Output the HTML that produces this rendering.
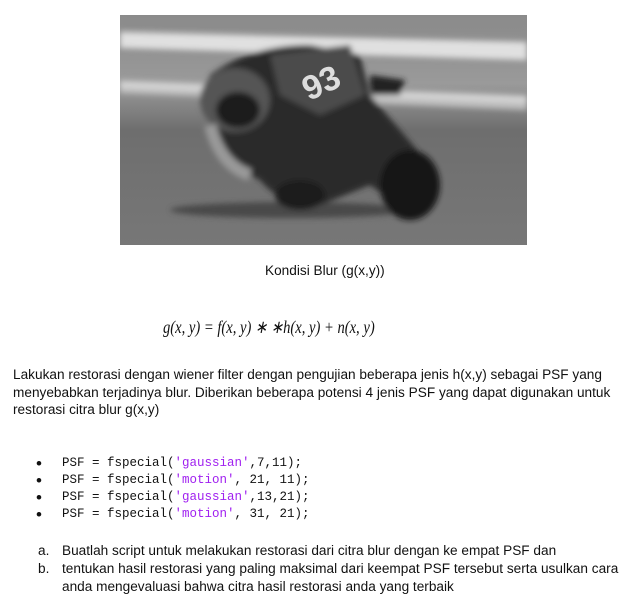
<!DOCTYPE html>
<html><head><meta charset="utf-8">
<style>
body{margin:0;width:634px;height:601px;background:#fff;position:relative;overflow:hidden;font-family:"Liberation Sans",sans-serif;color:#111}
.t{position:absolute;white-space:nowrap;font-size:13.5px;transform:scaleX(1.01);transform-origin:0 0;line-height:16px}
.c{position:absolute;white-space:nowrap;font-family:"Liberation Mono",monospace;font-size:12.5px;line-height:17px;left:62px}
.b{position:absolute;left:36px;font-size:17px;line-height:17px}
.p{color:#a020f0}
</style></head><body>
<svg style="position:absolute;left:120px;top:15px" width="407" height="230" viewBox="0 0 407 230">
<defs>
<filter id="bl"><feGaussianBlur stdDeviation="3"/></filter>
<linearGradient id="g" x1="0" y1="0" x2="0" y2="1">
<stop offset="0" stop-color="#8a8a8a"/><stop offset="0.3" stop-color="#9a9a9a"/><stop offset="0.5" stop-color="#6e6e6e"/><stop offset="1" stop-color="#777"/></linearGradient>
</defs>
<rect width="407" height="230" fill="url(#g)"/>
<g filter="url(#bl)">
<path d="M0 17 L407 27 L407 45 L0 33Z" fill="#e0e0e0"/>
<rect x="0" y="2" width="407" height="12" fill="#8c8c8c"/>
<path d="M0 65 L407 80 L407 95 L0 78Z" fill="#bdbdbd"/>
<path d="M0 70 L407 85" stroke="#d8d8d8" stroke-width="5"/>
<ellipse cx="170" cy="195" rx="120" ry="8" fill="#4a4a4a"/>
<path d="M90 60 Q130 30 190 30 L240 40 L250 80 L310 150 Q330 200 290 198 L250 170 L200 190 Q160 190 140 165 L110 150 Q80 110 90 60Z" fill="#2a2a2a"/>
<ellipse cx="115" cy="85" rx="35" ry="32" fill="#555"/>
<ellipse cx="118" cy="95" rx="22" ry="18" fill="#1a1a1a"/>
<path d="M150 40 L230 30 L245 80 L200 100 L160 80Z" fill="#4b4b4b"/>
<ellipse cx="290" cy="170" rx="30" ry="35" fill="#151515"/>
<ellipse cx="180" cy="180" rx="25" ry="15" fill="#1a1a1a"/>
<path d="M90 110 Q100 150 130 160" stroke="#999" stroke-width="12" fill="none"/>
<path d="M250 60 L285 65 L280 80 L250 80Z" fill="#222"/>
</g>
<text x="183" y="80" font-family="Liberation Sans" font-weight="bold" font-size="34" fill="#ddd" transform="rotate(-25 200 70)">93</text>
</svg>
<div class="t" style="left:265px;top:263px">Kondisi Blur (g(x,y))</div>
<div style="position:absolute;left:163px;top:317px;white-space:nowrap;font-family:'Liberation Serif',serif;font-size:18px;font-style:italic;transform:scaleX(0.81);transform-origin:0 0">g(x, y) = f(x, y) ∗ ∗h(x, y) + n(x, y)</div>
<div class="t" style="left:13px;top:367px">Lakukan restorasi dengan wiener filter dengan pengujian beberapa jenis h(x,y) sebagai PSF yang</div>
<div class="t" style="left:13px;top:385px">menyebabkan terjadinya blur. Diberikan beberapa potensi 4 jenis PSF yang dapat digunakan untuk</div>
<div class="t" style="left:13px;top:402px">restorasi citra blur g(x,y)</div>
<div class="b" style="top:455px">•</div><div class="c" style="top:455px">PSF = fspecial(<span class="p">'gaussian'</span>,7,11);</div>
<div class="b" style="top:472px">•</div><div class="c" style="top:472px">PSF = fspecial(<span class="p">'motion'</span>, 21, 11);</div>
<div class="b" style="top:489px">•</div><div class="c" style="top:489px">PSF = fspecial(<span class="p">'gaussian'</span>,13,21);</div>
<div class="b" style="top:506px">•</div><div class="c" style="top:506px">PSF = fspecial(<span class="p">'motion'</span>, 31, 21);</div>
<div class="t" style="left:38px;top:543px">a.</div>
<div class="t" style="left:62px;top:543px">Buatlah script untuk melakukan restorasi dari citra blur dengan ke empat PSF dan</div>
<div class="t" style="left:38px;top:561px">b.</div>
<div class="t" style="left:62px;top:561px">tentukan hasil restorasi yang paling maksimal dari keempat PSF tersebut serta usulkan cara</div>
<div class="t" style="left:62px;top:579px">anda mengevaluasi bahwa citra hasil restorasi anda yang terbaik</div>
</body></html>
